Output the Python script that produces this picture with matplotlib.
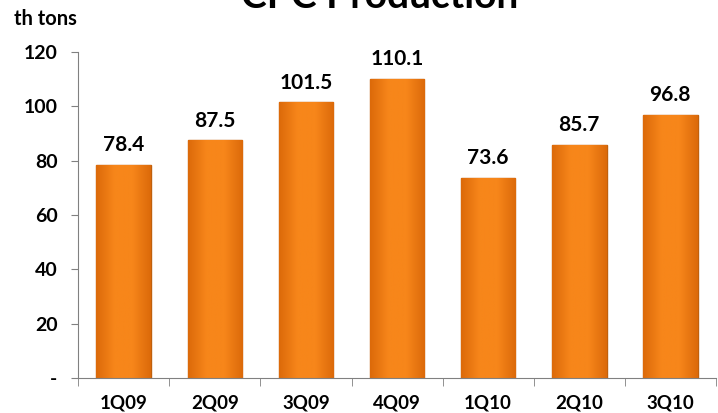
import matplotlib
matplotlib.use("Agg")
import matplotlib.pyplot as plt
import numpy as np
from matplotlib.colors import LinearSegmentedColormap

quarters = ["1Q09", "2Q09", "3Q09", "4Q09", "1Q10", "2Q10", "3Q10"]
production = [78.4, 87.5, 101.5, 110.1, 73.6, 85.7, 96.8]
yticks = [0, 20, 40, 60, 80, 100, 120]
ytick_labels = ["-", "20", "40", "60", "80", "100", "120"]

plt.rcParams["font.family"] = ["Lato", "DejaVu Sans"]

fig = plt.figure(figsize=(7.18, 4.13), dpi=100)
ax = fig.add_axes([0.109, 0.085, 0.888, 0.789])

x = np.arange(len(quarters))
w = 0.6
bars = ax.bar(x, production, width=w, color="#F07B12", edgecolor="#C0600C", linewidth=1.0, zorder=2)

# bevel-like shading across each bar
cmap = LinearSegmentedColormap.from_list("bev", ["#DC6A0A", "#F7861A", "#F7861A", "#DC6A0A"])
grad = np.linspace(0, 1, 64).reshape(1, -1)
for b in bars:
    im = ax.imshow(grad, cmap=cmap, aspect="auto", zorder=2.5,
                   extent=(b.get_x(), b.get_x() + b.get_width(), 0, b.get_height()))
    im.set_clip_path(b)

for xi, v in zip(x, production):
    ax.annotate(f"{v:.1f}", (xi, v), xytext=(0, 7), textcoords="offset points",
                ha="center", va="bottom", fontsize=15, fontweight="bold")

ax.set_xlim(-0.5, len(quarters) - 0.5)
ax.set_ylim(0, 120)
ax.set_yticks(yticks)
ax.set_yticklabels(ytick_labels, fontsize=14, fontweight="bold")
ax.set_xticks(x)
ax.set_xticklabels(quarters, fontsize=13.5, fontweight="bold")
ax.tick_params(axis="x", length=0, pad=12)
ax.set_xticks([i + 0.5 for i in range(-1, len(quarters))], minor=True)
ax.tick_params(axis="x", which="minor", length=6, direction="out", color="#808080")
ax.tick_params(axis="y", length=5, direction="out", color="#808080", pad=10)

for side in ["top", "right"]:
    ax.spines[side].set_visible(False)
ax.spines["left"].set_color("#808080")
ax.spines["bottom"].set_color("#808080")

fig.text(0.02, 0.955, "th tons", fontsize=14.5, fontweight="bold", ha="left", va="center")
# title is cropped at the top edge in the source picture
fig.text(0.529, 0.98, "CPC Production", fontsize=28, fontweight="bold", ha="center", va="baseline")

fig.savefig("out.png", dpi=100)
